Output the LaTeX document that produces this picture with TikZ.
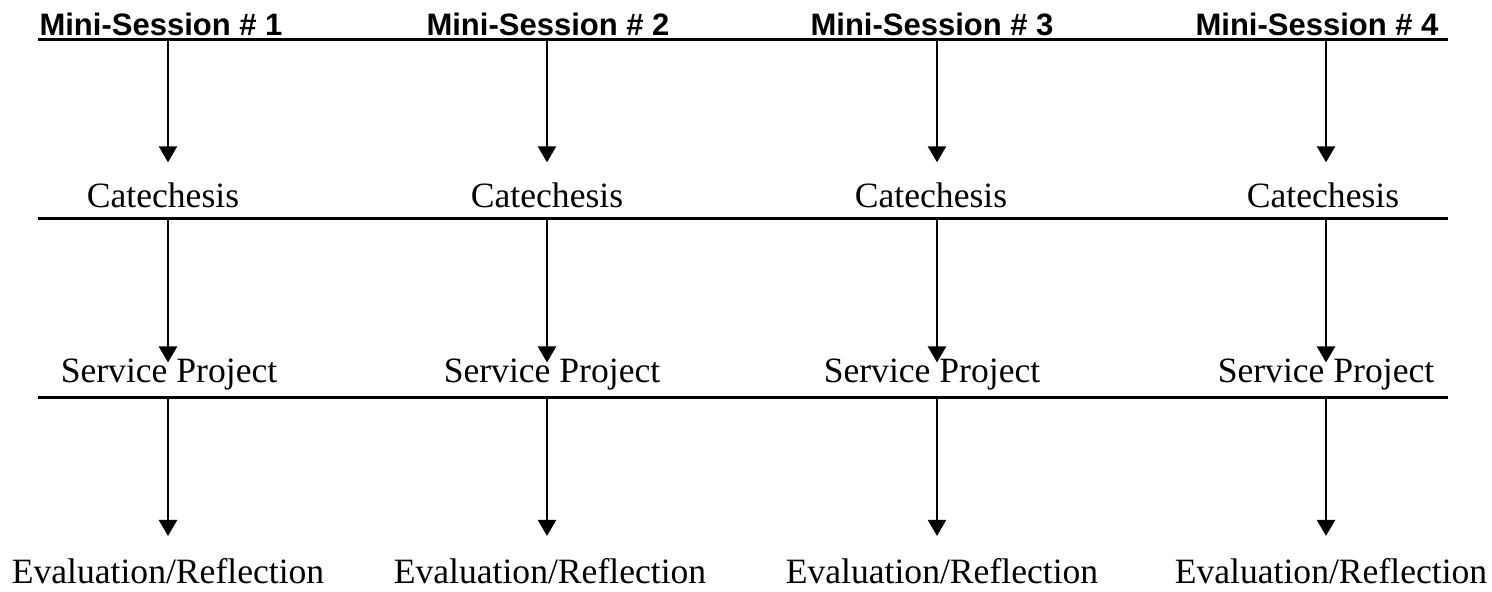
\documentclass[tikz,border=0pt]{standalone}
\usepackage{fontspec}
\setmainfont{Liberation Serif}
\newfontfamily\headfont{Liberation Sans}
\usetikzlibrary{arrows.meta}

\begin{document}
\begin{tikzpicture}[x=0.5pt,y=-0.5pt,
	head/.style={anchor=base, inner sep=0pt, font=\headfont\bfseries\fontsize{15.5}{18}\selectfont},
	stage/.style={anchor=base, inner sep=0pt, font=\fontsize{17.8}{21}\selectfont},
	rule/.style={line width=1.5pt},
	flow/.style={-{Triangle[width=9pt,length=8pt]}, line width=1.2pt}]
\useasboundingbox (0,0) rectangle (1492,591);

% headers
\node [head] (h1) at (161,35) {Mini-Session \# 1};
\node [head] (h2) at (548,35) {Mini-Session \# 2};
\node [head] (h3) at (932,35) {Mini-Session \# 3};
\node [head] (h4) at (1317,35) {Mini-Session \# 4};

% stages
\node [stage] (c1) at (163,207) {Catechesis};
\node [stage] (c2) at (547,207) {Catechesis};
\node [stage] (c3) at (931,207) {Catechesis};
\node [stage] (c4) at (1323,207) {Catechesis};

\node [stage] (s1) at (169,382) {Service Project};
\node [stage] (s2) at (552,382) {Service Project};
\node [stage] (s3) at (932,382) {Service Project};
\node [stage] (s4) at (1326,382) {Service Project};

\node [stage] (e1) at (168,583) {Evaluation/Reflection};
\node [stage] (e2) at (550,583) {Evaluation/Reflection};
\node [stage] (e3) at (942,583) {Evaluation/Reflection};
\node [stage] (e4) at (1331,583) {Evaluation/Reflection};

% rules
\coordinate (r1a) at (38,39);  \coordinate (r1b) at (1448,39);
\coordinate (r2a) at (38,218); \coordinate (r2b) at (1448,218);
\coordinate (r3a) at (38,397); \coordinate (r3b) at (1448,397);
\draw [rule] (r1a) -- (r1b);
\draw [rule] (r2a) -- (r2b);
\draw [rule] (r3a) -- (r3b);

% arrows
\coordinate (p1) at (168,40);  \coordinate (p2) at (547,40);
\coordinate (p3) at (937,40);  \coordinate (p4) at (1326,40);
\coordinate (q1) at (168,219); \coordinate (q2) at (547,219);
\coordinate (q3) at (937,219); \coordinate (q4) at (1326,219);
\coordinate (u1) at (168,398); \coordinate (u2) at (547,398);
\coordinate (u3) at (937,398); \coordinate (u4) at (1326,398);

\draw [flow, shorten >=9.8pt] (p1) -- (p1 |- c1.north);
\draw [flow, shorten >=9.8pt] (p2) -- (p2 |- c2.north);
\draw [flow, shorten >=9.8pt] (p3) -- (p3 |- c3.north);
\draw [flow, shorten >=9.8pt] (p4) -- (p4 |- c4.north);

\draw [flow, shorten >=-2.2pt] (q1) -- (q1 |- s1.north);
\draw [flow, shorten >=-2.2pt] (q2) -- (q2 |- s2.north);
\draw [flow, shorten >=-2.2pt] (q3) -- (q3 |- s3.north);
\draw [flow, shorten >=-2.2pt] (q4) -- (q4 |- s4.north);

\draw [flow, shorten >=10.8pt] (u1) -- (u1 |- e1.north);
\draw [flow, shorten >=10.8pt] (u2) -- (u2 |- e2.north);
\draw [flow, shorten >=10.8pt] (u3) -- (u3 |- e3.north);
\draw [flow, shorten >=10.8pt] (u4) -- (u4 |- e4.north);
\end{tikzpicture}
\end{document}
